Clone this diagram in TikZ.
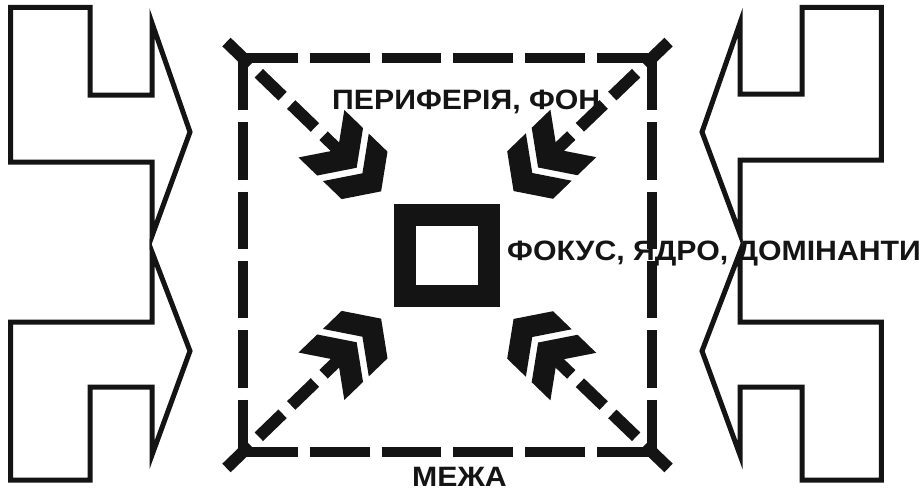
\documentclass[tikz,border=0pt]{standalone}
\usepackage{fontspec}
\setmainfont{Liberation Sans}
\usetikzlibrary{calc}
\definecolor{inkC}{HTML}{141414}
\tikzset{
  bigArw/.style={draw=inkC, line width=5pt, line join=miter, fill=white},
  frameLn/.style={draw=inkC, line width=10pt},
  diagLn/.style={draw=inkC, line width=12pt, dash pattern=on 33pt off 12pt},
  coreBx/.style={draw=inkC, line width=22pt},
  lbl/.style={font=\fontsize{28}{30}\selectfont\bfseries, text=inkC, inner sep=0pt, anchor=base west, xscale=1.08},
  chevron/.pic={\fill[inkC] (0,0) -- (-23,33) -- (-49,33) -- (-26,0) -- (-49,-33) -- (-23,-33) -- cycle;}
}

\begin{document}
\begin{tikzpicture}[x=1pt, y=-1pt]
  \useasboundingbox (0,0) rectangle (921,495);

  % ── Side arrows ──
  \draw[bigArw] (10.7,7.3) -- (90,7.3) -- (90,95) -- (152,95) -- (152,23) -- (190,132) -- (152,236) -- (152,162) -- (10.7,162) -- cycle;
  \draw[bigArw] (10.7,480) -- (90,480) -- (90,387) -- (152,387) -- (152,455) -- (190,351) -- (152,252) -- (152,322) -- (10.7,322) -- cycle;
  \draw[bigArw] (881.3,7.3) -- (802,7.3) -- (802,94) -- (740,94) -- (740,23) -- (702,132) -- (740,234) -- (740,160) -- (881.3,160) -- cycle;
  \draw[bigArw] (881.3,480) -- (802,480) -- (802,387) -- (740,387) -- (740,455) -- (702,351) -- (740,252) -- (740,322) -- (881.3,322) -- cycle;

  % ── Frame ──
  \coordinate (tl) at (243,58);
  \coordinate (tr) at (652,58);
  \coordinate (bl) at (243,452);
  \coordinate (br) at (652,452);
  \coordinate (cen) at (447,255);
  \draw[frameLn, dash pattern=on 59.8pt off 12pt] ([xshift=-5pt]tl) -- ([xshift=5pt]tr);
  \draw[frameLn, dash pattern=on 59.8pt off 12pt] ([xshift=-5pt]bl) -- ([xshift=5pt]br);
  \draw[frameLn, dash pattern=on 57.3pt off 12pt] ([yshift=5pt]tl) -- ([yshift=-5pt]bl);
  \draw[frameLn, dash pattern=on 57.3pt off 12pt] ([yshift=5pt]tr) -- ([yshift=-5pt]br);

  % ── Diagonals and chevrons ──
  \foreach \c/\a in {tl/-44, tr/-136, bl/44, br/136} {
    \draw[diagLn] ($(\c)!-23pt!(cen)$) -- ($(\c)!132pt!(cen)$);
    \pic[rotate=\a] at ($(\c)!158pt!(cen)$) {chevron};
    \pic[rotate=\a] at ($(\c)!192pt!(cen)$) {chevron};
  }

  % ── Core ──
  \draw[coreBx] (404.5,215) rectangle (489,295.5);

  % ── Labels ──
  \node[lbl] (periph) at (332,110) {ПЕРИФЕРІЯ, ФОН};
  \node[lbl] (focus) at (507,260) {ФОКУС, ЯДРО, ДОМІНАНТИ};
  \node[lbl] (border) at (412,486) {МЕЖА};
\end{tikzpicture}
\end{document}
